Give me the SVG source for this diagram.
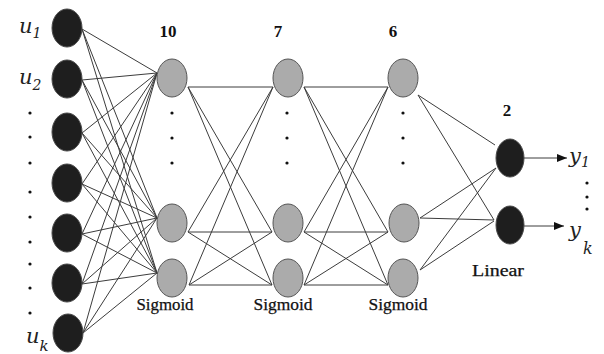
<svg xmlns="http://www.w3.org/2000/svg" width="604" height="354" viewBox="0 0 604 354">
<style>
.in{fill:#1e1e1e;stroke:#4a4a4a;stroke-width:1}
.hid{fill:#ababab;stroke:#555;stroke-width:1}
.out{fill:#1e1e1e;stroke:#4a4a4a;stroke-width:1}
.c line{stroke:#3c3c3c;stroke-width:1}
.dot{fill:#111}
.lab{font-family:"DejaVu Serif","Liberation Serif",serif;font-style:italic;fill:#222}
.num{font-family:"Liberation Serif",serif;font-weight:bold;font-size:17px;fill:#111;text-anchor:middle}
.act{font-family:"Liberation Serif",serif;font-size:16px;fill:#111;text-anchor:middle;stroke:#111;stroke-width:0.25}
</style>
<defs>
<marker id="ah" markerWidth="10" markerHeight="8" refX="10" refY="4" orient="auto" markerUnits="userSpaceOnUse">
<path d="M0,0 L10,4 L0,8 Z" fill="#111"/>
</marker>
</defs>
<rect width="604" height="354" fill="#fff"/>
<g class="c" id="connectors">
<line x1="82" y1="29" x2="157" y2="73"/><line x1="82" y1="29" x2="157" y2="218"/><line x1="82" y1="29" x2="157" y2="273"/>
<line x1="82" y1="80" x2="157" y2="73"/><line x1="82" y1="80" x2="157" y2="218"/><line x1="82" y1="80" x2="157" y2="273"/>
<line x1="82" y1="133" x2="157" y2="73"/><line x1="82" y1="133" x2="157" y2="218"/><line x1="82" y1="133" x2="157" y2="273"/>
<line x1="82" y1="184" x2="157" y2="73"/><line x1="82" y1="184" x2="157" y2="218"/><line x1="82" y1="184" x2="157" y2="273"/>
<line x1="82" y1="234" x2="157" y2="73"/><line x1="82" y1="234" x2="157" y2="218"/><line x1="82" y1="234" x2="157" y2="273"/>
<line x1="82" y1="284" x2="157" y2="73"/><line x1="82" y1="284" x2="157" y2="218"/><line x1="82" y1="284" x2="157" y2="273"/>
<line x1="83" y1="333" x2="157" y2="73"/><line x1="83" y1="333" x2="157" y2="218"/><line x1="83" y1="333" x2="157" y2="273"/>
<line x1="188" y1="87" x2="273" y2="87"/><line x1="188" y1="87" x2="272" y2="232"/><line x1="188" y1="87" x2="272" y2="285"/>
<line x1="188" y1="232" x2="273" y2="87"/><line x1="188" y1="232" x2="272" y2="232"/><line x1="188" y1="232" x2="272" y2="285"/>
<line x1="189" y1="285" x2="273" y2="87"/><line x1="189" y1="285" x2="272" y2="232"/><line x1="189" y1="285" x2="272" y2="285"/>
<line x1="304" y1="87" x2="388" y2="87"/><line x1="304" y1="87" x2="388" y2="232"/><line x1="304" y1="87" x2="388" y2="285"/>
<line x1="304" y1="232" x2="388" y2="87"/><line x1="304" y1="232" x2="388" y2="232"/><line x1="304" y1="232" x2="388" y2="285"/>
<line x1="304" y1="285" x2="388" y2="87"/><line x1="304" y1="285" x2="388" y2="232"/><line x1="304" y1="285" x2="388" y2="285"/>
<line x1="418" y1="95" x2="495" y2="145"/><line x1="418" y1="95" x2="494" y2="220"/>
<line x1="420" y1="218" x2="496" y2="168"/><line x1="420" y1="218" x2="494" y2="220"/>
<line x1="420" y1="270" x2="496" y2="168"/><line x1="420" y1="270" x2="494" y2="221"/>
<line x1="524" y1="158" x2="567" y2="158" marker-end="url(#ah)"/>
<line x1="524" y1="226" x2="564" y2="226" marker-end="url(#ah)"/>
</g>
<g id="input-layer">
<ellipse class="in" cx="67" cy="28" rx="15" ry="19"/>
<ellipse class="in" cx="67" cy="79" rx="15" ry="19"/>
<ellipse class="in" cx="67" cy="132" rx="15" ry="19"/>
<ellipse class="in" cx="67" cy="183" rx="15" ry="19"/>
<ellipse class="in" cx="67" cy="233" rx="15" ry="19"/>
<ellipse class="in" cx="67" cy="283" rx="15" ry="19"/>
<ellipse class="in" cx="68" cy="333" rx="15" ry="19"/>
<text class="lab" x="19" y="33" font-size="21">u<tspan font-size="14" dy="5">1</tspan></text>
<text class="lab" x="19" y="84" font-size="21">u<tspan font-size="14" dy="6">2</tspan></text>
<text class="lab" x="26" y="343" font-size="21">u<tspan font-size="15" dy="8">k</tspan></text>
<g class="dot">
<circle cx="30" cy="113" r="1.6"/><circle cx="30" cy="137" r="1.6"/><circle cx="30" cy="163" r="1.6"/>
<circle cx="30" cy="192" r="1.6"/><circle cx="30" cy="217" r="1.6"/><circle cx="30" cy="242" r="1.6"/>
<circle cx="30" cy="264" r="1.6"/><circle cx="30" cy="288" r="1.6"/><circle cx="30" cy="313" r="1.6"/>
</g>
</g>
<g id="hidden-layer-1">
<ellipse class="hid" cx="172" cy="78" rx="15" ry="19"/>
<ellipse class="hid" cx="172" cy="223" rx="15" ry="19"/>
<ellipse class="hid" cx="172" cy="278" rx="15" ry="19"/>
<text class="num" x="168" y="37">10</text>
<text class="act" x="165" y="310" textLength="57" lengthAdjust="spacingAndGlyphs">Sigmoid</text>
<g class="dot"><circle cx="172" cy="113" r="1.6"/><circle cx="172" cy="138" r="1.6"/><circle cx="172" cy="163" r="1.6"/></g>
</g>
<g id="hidden-layer-2">
<ellipse class="hid" cx="288" cy="78" rx="15" ry="19"/>
<ellipse class="hid" cx="288" cy="223" rx="15" ry="19"/>
<ellipse class="hid" cx="288" cy="278" rx="15" ry="19"/>
<text class="num" x="278" y="37">7</text>
<text class="act" x="283" y="310" textLength="59" lengthAdjust="spacingAndGlyphs">Sigmoid</text>
<g class="dot"><circle cx="287" cy="113" r="1.6"/><circle cx="287" cy="138" r="1.6"/><circle cx="287" cy="163" r="1.6"/></g>
</g>
<g id="hidden-layer-3">
<ellipse class="hid" cx="403" cy="78" rx="15" ry="19"/>
<ellipse class="hid" cx="404" cy="223" rx="15" ry="19"/>
<ellipse class="hid" cx="403" cy="278" rx="15" ry="19"/>
<text class="num" x="393" y="37">6</text>
<text class="act" x="398" y="310" textLength="59" lengthAdjust="spacingAndGlyphs">Sigmoid</text>
<g class="dot"><circle cx="403" cy="113" r="1.6"/><circle cx="403" cy="138" r="1.6"/><circle cx="403" cy="163" r="1.6"/></g>
</g>
<g id="output-layer">
<ellipse class="out" cx="510" cy="158" rx="14" ry="19"/>
<ellipse class="out" cx="510" cy="225" rx="14" ry="19"/>
<text class="num" x="507" y="116">2</text>
<text class="act" x="498" y="276" textLength="52" lengthAdjust="spacingAndGlyphs">Linear</text>
<text class="lab" x="569" y="163" font-size="21">y<tspan font-size="14" dy="4">1</tspan></text>
<text class="lab" x="569" y="237" font-size="21">y<tspan font-size="16" dx="2" dy="17">k</tspan></text>
<g class="dot"><circle cx="587" cy="183" r="1.6"/><circle cx="587" cy="197" r="1.6"/><circle cx="587" cy="209" r="1.6"/></g>
</g>
</svg>
